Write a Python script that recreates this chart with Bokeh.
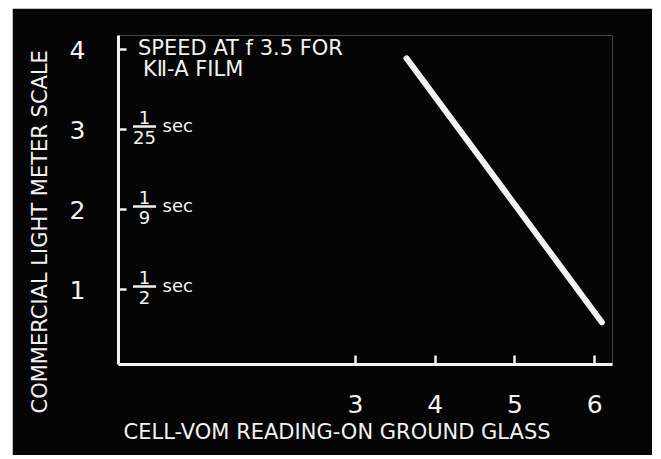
from bokeh.plotting import figure
from bokeh.models import Range1d, FixedTicker, Spacer, Title
from bokeh.layouts import row, column
from bokeh.core.properties import value
from bokeh.embed import file_html
from bokeh.resources import INLINE

# ---- data ----
x_ticks = [3, 4, 5, 6]
y_ticks = [1, 2, 3, 4]
line_x = [3.64, 6.09]
line_y = [3.89, 0.59]
speed_levels = [1, 2, 3]
speed_num = ["1", "1", "1"]
speed_den = ["2", "9", "25"]
speed_unit = ["sec", "sec", "sec"]
note_lines = ["SPEED AT f 3.5 FOR", "KⅡ-A FILM"]
x_title = "CELL-VOM READING-ON GROUND GLASS"
y_title = "COMMERCIAL LIGHT METER SCALE"

# ---- layout ----
X_START, X_END = 0.026, 6.224
Y_START, Y_END = 0.0625, 4.175
FW, FH = 494, 329
PXU = FW / (X_END - X_START)
PYU = FH / (Y_END - Y_START)
FONT = "DejaVu Sans"
WHITE = "#f2f2f2"
BG = "#050505"

p = figure(width=640, height=447, output_backend="svg", toolbar_location=None,
           x_range=Range1d(X_START, X_END), y_range=Range1d(Y_START, Y_END),
           min_border_left=106, min_border_right=640 - 106 - FW,
           min_border_top=27, min_border_bottom=447 - 27 - FH,
           background_fill_color=BG, border_fill_color=BG)
p.outline_line_color = None
p.grid.visible = False

for ax in (p.xaxis[0], p.yaxis[0]):
    ax.axis_line_color = WHITE
    ax.axis_line_width = 3
    ax.major_tick_line_color = WHITE
    ax.major_tick_line_width = 2.5
    ax.major_tick_out = 0
    ax.minor_tick_line_color = None
    ax.major_label_text_color = WHITE
    ax.major_label_text_font = FONT
    ax.major_label_text_font_size = "25px"

p.xaxis.ticker = FixedTicker(ticks=x_ticks)
p.yaxis.ticker = FixedTicker(ticks=y_ticks)
p.xaxis.major_tick_in = 9
p.yaxis.major_tick_in = 8
p.xaxis.major_label_standoff = 30
p.yaxis.major_label_standoff = 33

# axis titles (offset along the axes as in the original artwork)
p.add_layout(Title(text=y_title, align="left", offset=-49, standoff=27,
                   vertical_align="middle", text_color=WHITE, text_font=FONT,
                   text_font_size="21px", text_font_style="normal"), "left")
p.add_layout(Title(text=x_title, align="left", offset=5, standoff=8,
                   vertical_align="top", text_color=WHITE, text_font=FONT,
                   text_font_size="21px", text_font_style="normal"), "below")

# main line
p.line(line_x, line_y, line_color=WHITE, line_width=6, line_cap="round")

# note text
p.text(x=[X_START, X_START], y=[Y_END - 12 / PYU, Y_END - 33 / PYU], text=note_lines,
       x_offset=[19.5, 24.5], text_color=WHITE, text_font=value(FONT),
       text_font_size="21px", text_baseline="alphabetic", text_align="left")

# shutter speed fractions
p.segment(x0=[X_START + 14.5 / PXU] * 3, x1=[X_START + 37.5 / PXU] * 3,
          y0=[v + 3 / PYU for v in speed_levels], y1=[v + 3 / PYU for v in speed_levels],
          line_color=WHITE, line_width=2.5)
p.text(x=[X_START] * 3, y=speed_levels, text=speed_num, x_offset=26, y_offset=-12.5,
       text_color=WHITE, text_font=value(FONT), text_font_size="18px",
       text_align="center", text_baseline="middle")
p.text(x=[X_START] * 3, y=speed_levels, text=speed_den, x_offset=26, y_offset=7.5,
       text_color=WHITE, text_font=value(FONT), text_font_size="18px",
       text_align="center", text_baseline="middle")
p.text(x=[X_START] * 3, y=speed_levels, text=speed_unit, x_offset=44, y_offset=-4,
       text_color=WHITE, text_font=value(FONT), text_font_size="18px",
       text_align="left", text_baseline="middle")

layout = column(Spacer(width=652, height=8), row(Spacer(width=12, height=447), p))
open("out.html", "w").write(file_html(layout, INLINE))
